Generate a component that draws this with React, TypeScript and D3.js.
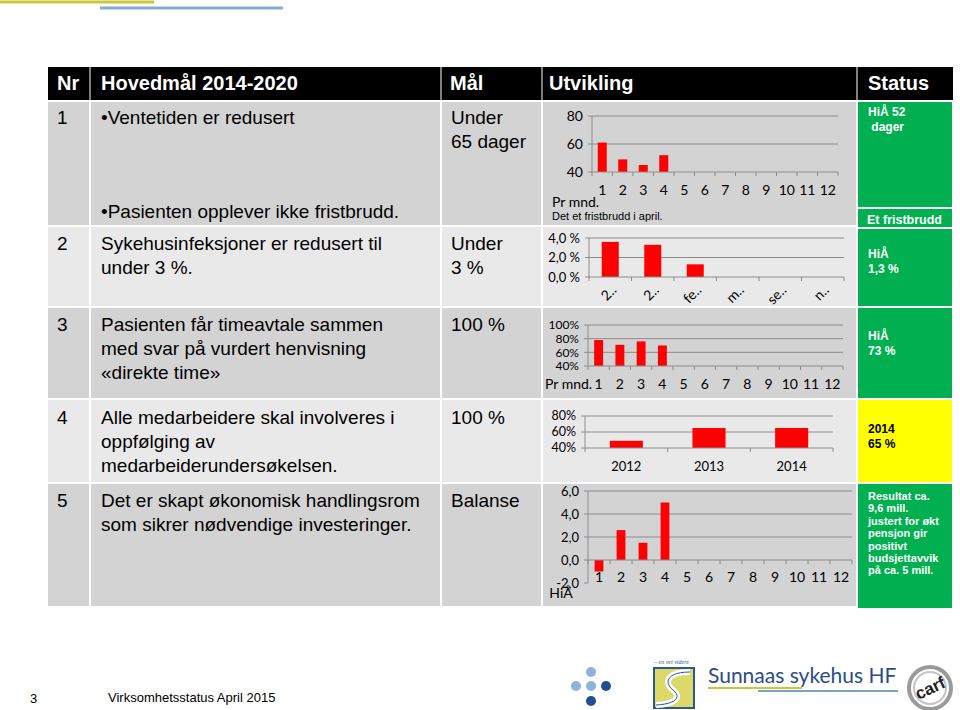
import React from "react";
import * as d3 from "d3";

// ---------- data ----------
const months = ["1", "2", "3", "4", "5", "6", "7", "8", "9", "10", "11", "12"];
const waitDays = [61, 49, 45, 52];
const waitTicks = [40, 60, 80];

const infectionCats = ["2..", "2..", "fe..", "m..", "se..", "n.."];
const infectionPct = [3.6, 3.3, 1.3];
const infectionTicks = [0, 2, 4];

const directPct = [78, 71, 76, 70];
const directTicks = [40, 60, 80, 100];

const surveyYears = ["2012", "2013", "2014"];
const surveyPct = [49, 65, 65];
const surveyTicks = [40, 60, 80];

const budgetDev = [-1.0, 2.6, 1.5, 5.0];
const budgetTicks = [-2, 0, 2, 4, 6];

const headers = ["Nr", "Hovedmål 2014-2020", "Mål", "Utvikling", "Status"];
const rowNr = ["1", "2", "3", "4", "5"];
const goalLines = [
  ["•Ventetiden er redusert", "•Pasienten opplever ikke fristbrudd."],
  ["Sykehusinfeksjoner er redusert til", "under 3 %."],
  ["Pasienten får timeavtale sammen", "med svar på vurdert henvisning", "«direkte time»"],
  ["Alle medarbeidere skal involveres i", "oppfølging av", "medarbeiderundersøkelsen."],
  ["Det er skapt økonomisk handlingsrom", "som sikrer nødvendige investeringer."],
];
const targetLines = [["Under", "65 dager"], ["Under", "3 %"], ["100 %"], ["100 %"], ["Balanse"]];
const statusLines = [
  ["HiÅ 52", " dager"],
  ["HiÅ", "1,3 %"],
  ["HiÅ", "73 %"],
  ["2014", "65 %"],
  ["Resultat ca.", "9,6 mill.", "justert for økt", "pensjon gir", "positivt", "budsjettavvik", "på ca. 5 mill."],
];

// ---------- layout ----------
const ARIAL = "'Liberation Sans', Arial, sans-serif";
const CAL = "Lato, 'Open Sans', sans-serif";
const DARK = "#d3d3d3";
const LIGHT = "#e9e9e9";
const GREEN = "#00b050";
const YELLOW = "#ffff00";
const RED = "#ff0000";
const GRID = "#8c8c8c";

const colX = [48, 91, 442, 543, 858, 953];
const rowY = [102, 227, 308, 400, 484, 608];
const rowFill = [DARK, LIGHT, DARK, LIGHT, DARK];

type ChartProps = {
  x0: number; x1: number; yTop: number; yBot: number;
  domain: [number, number];
  cats: string[]; values: number[]; ticks: number[];
  fmt: (v: number) => string;
  pad: number;
  tickFont: number;
  catFont: number;
  catBaseline: number;
  rotate?: boolean;
};

function BarChart(p: ChartProps) {
  const keys = p.cats.map((_, i) => String(i));
  const x = d3.scaleBand<string>().domain(keys).range([p.x0, p.x1]).paddingInner(p.pad).paddingOuter(p.pad / 2);
  const y = d3.scaleLinear().domain(p.domain).range([p.yBot, p.yTop]);
  const baseVal = Math.max(p.domain[0], 0);
  const base = y(baseVal);
  const bounds = d3.range(p.cats.length + 1).map((i) => p.x0 + i * ((p.x1 - p.x0) / p.cats.length));
  return (
    <g>
      {p.ticks.filter((t) => t > baseVal).map((t) => (
        <line key={"g" + t} x1={p.x0} x2={p.x1} y1={y(t)} y2={y(t)} stroke={GRID} strokeWidth={1} />
      ))}
      <line x1={p.x0} x2={p.x0} y1={y(p.ticks[p.ticks.length - 1])} y2={y(p.domain[0])} stroke={GRID} />
      {p.ticks.map((t) => (
        <g key={"t" + t}>
          <line x1={p.x0 - 4} x2={p.x0} y1={y(t)} y2={y(t)} stroke={GRID} />
          <text x={p.x0 - 9} y={y(t)} dy="0.35em" textAnchor="end" fontFamily={CAL} fontSize={p.tickFont} fill="#000">
            {p.fmt(t)}
          </text>
        </g>
      ))}
      {p.values.map((v, i) => {
        const yy = y(v);
        return (
          <rect key={"b" + i} x={x(String(i))} width={x.bandwidth()} y={Math.min(yy, base)} height={Math.abs(yy - base)} fill={RED} />
        );
      })}
      <line x1={p.x0} x2={p.x1} y1={base} y2={base} stroke={GRID} />
      {bounds.map((bx, i) => (
        <line key={"k" + i} x1={bx} x2={bx} y1={base} y2={base + 4} stroke={GRID} />
      ))}
      {p.cats.map((c, i) => {
        const cx = (x(String(i)) as number) + x.bandwidth() / 2;
        return p.rotate ? (
          <text key={"c" + i} transform={`translate(${cx + 7},${p.catBaseline}) rotate(-45)`} textAnchor="end" fontFamily={CAL} fontSize={p.catFont}>
            {c}
          </text>
        ) : (
          <text key={"c" + i} x={cx} y={p.catBaseline} textAnchor="middle" fontFamily={CAL} fontSize={p.catFont}>
            {c}
          </text>
        );
      })}
    </g>
  );
}

const comma1 = (v: number) => d3.format(".1f")(v).replace(".", ",").replace("−", "-");

export default function App() {
  const goalBase = [124, 250, 331, 424, 507];
  const statusBase = [116, 258, 340, 433, 500];
  const statusLH = [15, 15, 15, 14.5, 12.4];
  return (
    <svg width={960} height={710} style={{ position: "absolute", left: 0, top: 0, background: "#fff" }}>
      <rect width={960} height={710} fill="#fff" />
      {/* top decorative lines */}
      <line x1={0} x2={154} y1={2} y2={2} stroke="#c9c83c" strokeWidth={3} />
      <line x1={100} x2={283} y1={8} y2={8} stroke="#86acd2" strokeWidth={3} />

      {/* header */}
      <rect x={48} y={67} width={905} height={33} fill="#000" />
      {[90, 441, 542, 857].map((sx) => (
        <line key={sx} x1={sx} x2={sx} y1={67} y2={100} stroke="#7f7f7f" strokeWidth={2} />
      ))}
      {headers.map((h, i) => (
        <text key={h} x={[57, 101, 450, 549, 868][i]} y={90} fill="#fff" fontFamily={ARIAL} fontWeight="bold" fontSize={20}>
          {h}
        </text>
      ))}

      {/* body cells */}
      {rowNr.map((_, r) =>
        [0, 1, 2, 3].map((c) => (
          <rect key={r + "-" + c} x={colX[c]} y={rowY[r]} width={colX[c + 1] - colX[c] - 2} height={rowY[r + 1] - rowY[r] - 2} fill={rowFill[r]} />
        ))
      )}

      {/* status cells */}
      <rect x={858} y={102} width={94} height={105} fill={GREEN} />
      <rect x={858} y={209} width={94} height={18} fill={GREEN} />
      <rect x={858} y={229} width={94} height={77} fill={GREEN} />
      <rect x={858} y={308} width={94} height={90} fill={GREEN} />
      <rect x={858} y={400} width={94} height={82} fill={YELLOW} />
      <rect x={858} y={484} width={94} height={124} fill={GREEN} />

      {/* table texts */}
      {rowNr.map((n, r) => (
        <text key={"n" + n} x={57} y={goalBase[r]} fontFamily={ARIAL} fontSize={19}>{n}</text>
      ))}
      {goalLines.map((lines, r) =>
        lines.map((l, j) => (
          <text key={"g" + r + j} x={101} y={r === 0 && j === 1 ? 218 : goalBase[r] + j * 24} fontFamily={ARIAL} fontSize={19}>{l}</text>
        ))
      )}
      {targetLines.map((lines, r) =>
        lines.map((l, j) => (
          <text key={"m" + r + j} x={451} y={goalBase[r] + j * 24} fontFamily={ARIAL} fontSize={19}>{l}</text>
        ))
      )}
      {statusLines.map((lines, r) =>
        lines.map((l, j) => (
          <text key={"s" + r + j} x={868} y={statusBase[r] + j * statusLH[r]} fill={r === 3 ? "#000" : "#fff"} fontFamily={ARIAL} fontWeight="bold" fontSize={r === 4 ? 11 : 12} style={{ whiteSpace: "pre" }}>
            {l}
          </text>
        ))
      )}
      <text x={867} y={224} fill="#fff" fontFamily={ARIAL} fontWeight="bold" fontSize={12.5}>Et fristbrudd</text>

      {/* charts */}
      <BarChart x0={592} x1={838} yTop={116} yBot={172} domain={[40, 80]} cats={months} values={waitDays} ticks={waitTicks}
        fmt={(v) => String(v)} pad={0.56} tickFont={14} catFont={14} catBaseline={195} />
      <text x={552} y={207} fontFamily={CAL} fontSize={14}>Pr mnd.</text>
      <text x={552} y={220} fontFamily={ARIAL} fontSize={11}>Det et fristbrudd i april.</text>

      <BarChart x0={589} x1={844} yTop={238} yBot={277} domain={[0, 4]} cats={infectionCats} values={infectionPct} ticks={infectionTicks}
        fmt={(v) => comma1(v) + " %"} pad={0.6} tickFont={13} catFont={14} catBaseline={291} rotate />

      <BarChart x0={588} x1={843} yTop={325} yBot={366} domain={[40, 100]} cats={months} values={directPct} ticks={directTicks}
        fmt={(v) => v + "%"} pad={0.58} tickFont={12} catFont={14} catBaseline={389} />
      <text x={545} y={389} fontFamily={CAL} fontSize={14}>Pr mnd.</text>

      <BarChart x0={585} x1={833} yTop={416} yBot={448} domain={[40, 80]} cats={surveyYears} values={surveyPct} ticks={surveyTicks}
        fmt={(v) => v + "%"} pad={0.6} tickFont={12.5} catFont={13} catBaseline={471} />

      <BarChart x0={588} x1={852} yTop={491} yBot={583} domain={[-2, 6]} cats={months} values={budgetDev} ticks={budgetTicks}
        fmt={(v) => comma1(v)} pad={0.6} tickFont={13} catFont={14} catBaseline={582} />
      <text x={561} y={598} textAnchor="middle" fontFamily={CAL} fontSize={14}>HiÅ</text>

      {/* footer */}
      <text x={30} y={703} fontFamily={ARIAL} fontSize={13}>3</text>
      <text x={108} y={702} fontFamily={ARIAL} fontSize={13}>Virksomhetsstatus April 2015</text>

      {/* dots logo */}
      <circle cx={591} cy={672} r={5} fill="#8fb1da" />
      <circle cx={576} cy={686} r={5} fill="#8fb1da" />
      <circle cx={591} cy={686} r={5} fill="#8fb1da" />
      <circle cx={606} cy={686} r={5} fill="#1f4f8f" />
      <circle cx={591} cy={701} r={5} fill="#1f4f8f" />

      {/* Sunnaas logo */}
      <text x={654} y={664} fontFamily="serif" fontStyle="italic" fontSize={6} fill="#2b5797">– en vei videre</text>
      <rect x={654} y={668} width={40} height={40} fill="#dcd86a" stroke="#2b5797" strokeWidth={2} />
      <path d="M690,672 C666,672 664,683 673,690 C682,697 676,704 656,705" fill="none" stroke="#fff" strokeWidth={6} />
      <path d="M690,672 C666,672 664,683 673,690 C682,697 676,704 656,705" fill="none" stroke="#2b5797" strokeWidth={1} />
      <text x={708} y={683} fontFamily={CAL} fontSize={21} fill="#2a4b8d">Sunnaas sykehus HF</text>
      <line x1={708} x2={802} y1={688} y2={688} stroke="#c8c832" strokeWidth={2} />
      <line x1={758} x2={898} y1={691} y2={691} stroke="#7aa3cc" strokeWidth={2} />

      {/* CARF logo */}
      <circle cx={930} cy={688} r={21} fill="none" stroke="#9a9a9a" strokeWidth={4} />
      <circle cx={930} cy={688} r={16} fill="none" stroke="#c4c4c4" strokeWidth={2} />
      <text x={930} y={694} textAnchor="middle" transform="rotate(-25 930 688)" fontFamily={ARIAL} fontWeight="bold" fontSize={17} fill="#222">carf</text>
    </svg>
  );
}
